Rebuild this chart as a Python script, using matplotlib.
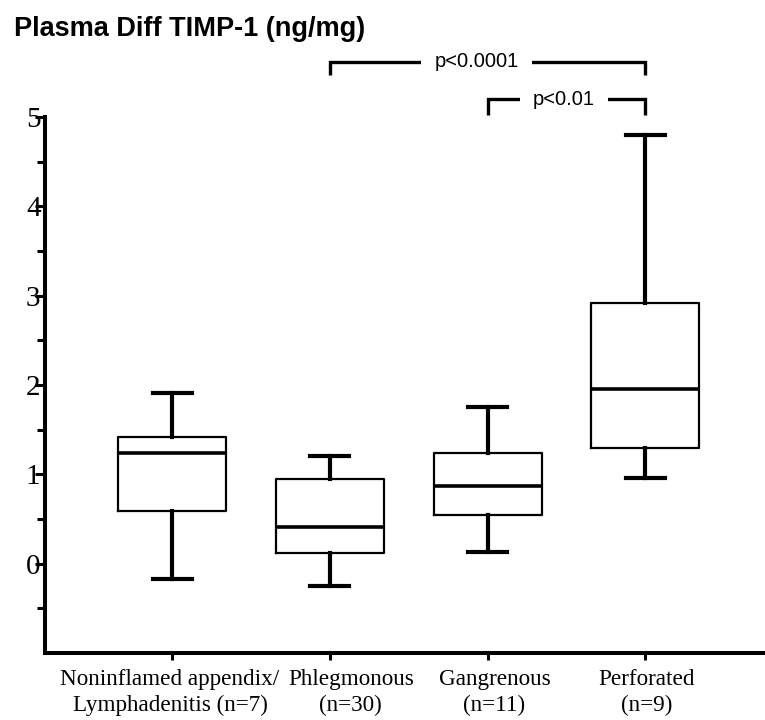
import matplotlib
matplotlib.use('Agg')
import matplotlib.pyplot as plt
import matplotlib.transforms as mtransforms

# ---- data ----
categories = ["Noninflamed appendix/\nLymphadenitis (n=7)", "Phlegmonous\n(n=30)",
              "Gangrenous\n(n=11)", "Perforated\n(n=9)"]
whisker_low = [-0.17, -0.25, 0.135, 0.955]
q1 = [0.595, 0.125, 0.54, 1.29]
median = [1.235, 0.405, 0.865, 1.955]
q3 = [1.415, 0.945, 1.235, 2.92]
whisker_high = [1.91, 1.20, 1.75, 4.80]
y_ticks = [0, 1, 2, 3, 4, 5]
y_tick_labels = ["0", "1", "2", "3", "4", "5"]
y_minor_ticks = [-0.5, 0.5, 1.5, 2.5, 3.5, 4.5]
comparisons = [(1, 3, "p<0.0001"), (2, 3, "p<0.01")]
title = "Plasma Diff TIMP-1 (ng/mg)"

# ---- figure ----
fig = plt.figure(figsize=(7.65, 7.2), dpi=100)
ax = fig.add_axes([45/765, 67/720, 720/765, 536/720])

positions = list(range(len(categories)))
stats = [dict(med=m, q1=a, q3=b, whislo=lo, whishi=hi, fliers=[])
         for m, a, b, lo, hi in zip(median, q1, q3, whisker_low, whisker_high)]
ax.bxp(stats, positions=positions, widths=0.685, capwidths=0.247, showfliers=False,
       boxprops=dict(color='black', linewidth=1.6),
       medianprops=dict(color='black', linewidth=2.6),
       whiskerprops=dict(color='black', linewidth=3.0),
       capprops=dict(color='black', linewidth=3.0),
       manage_ticks=False)

ax.set_xlim(-0.805, 3.758)
ax.set_ylim(-1, 5)

for s in ['top', 'right']:
    ax.spines[s].set_visible(False)
for s in ['left', 'bottom']:
    ax.spines[s].set_linewidth(2.9)
    ax.spines[s].set_capstyle('projecting')

ax.set_yticks(y_ticks)
ax.set_yticklabels(y_tick_labels, fontfamily='Liberation Serif', fontsize=21)
ax.set_yticks(y_minor_ticks, minor=True)
ax.tick_params(axis='y', which='major', length=7.2, width=2.2, pad=-4.0)
ax.tick_params(axis='y', which='minor', length=5.8, width=2.2)

ax.set_xticks(positions)
ax.set_xticklabels([])
ax.tick_params(axis='x', which='major', length=5, width=2.2)

# category labels
label_dx = [-0.013, 0.133, 0.044, 0.006]
trans = ax.get_xaxis_transform() + mtransforms.ScaledTranslation(0, -16/100, fig.dpi_scale_trans)
for i, (lab, dx) in enumerate(zip(categories, label_dx)):
    ax.text(i + dx, 0, lab, transform=trans, ha='center', va='top', multialignment='center',
            fontfamily='Liberation Serif', fontsize=16.7, linespacing=1.3)

# significance brackets
bracket_y = [5.617, 5.20]
bracket_drop = [0.15, 0.18]
text_x = [1.93, 2.484]
for (a, b, lab), y, d, tx in zip(comparisons, bracket_y, bracket_drop, text_x):
    ax.plot([a, a, b, b], [y - d, y, y, y - d], color='black', lw=2.4,
            clip_on=False, solid_joinstyle='miter', solid_capstyle='butt', zorder=2)
    ax.text(tx, y, lab, ha='center', va='center', fontfamily='Liberation Sans', fontsize=14.5,
            clip_on=False, zorder=3,
            bbox=dict(boxstyle='square,pad=0.65', fc='white', ec='none'))

fig.text(14/765, 1 - 36/720, title, fontfamily='Liberation Sans', fontweight='bold',
         fontsize=19.5, ha='left', va='baseline')

fig.savefig('out.png', dpi=100)
